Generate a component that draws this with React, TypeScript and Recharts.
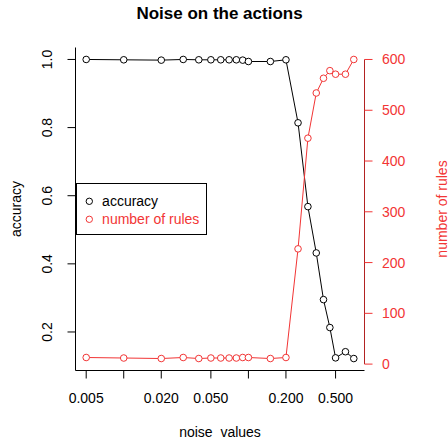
import React from "react";
import { ComposedChart, Line, XAxis, YAxis, Legend, ReferenceArea, ReferenceLine } from "recharts";

const noise = [0.005, 0.01, 0.02, 0.03, 0.04, 0.05, 0.06, 0.07, 0.08, 0.09, 0.1, 0.15, 0.2, 0.25, 0.3, 0.35, 0.4, 0.45, 0.5, 0.6, 0.7];
const accuracy = [1.0, 0.999, 0.998, 1.0, 0.999, 0.999, 0.999, 0.999, 0.999, 0.998, 0.994, 0.994, 0.999, 0.814, 0.568, 0.432, 0.295, 0.213, 0.124, 0.142, 0.122];
const rules = [13, 12, 11, 13, 11, 12, 12, 12, 12, 13, 13, 11, 13, 227, 445, 534, 563, 578, 571, 571, 600];

const xTicks = [0.005, 0.01, 0.02, 0.05, 0.1, 0.2, 0.5];
const xTickLabels = ["0.005", "", "0.020", "0.050", "", "0.200", "0.500"];
const accTicks = [0.2, 0.4, 0.6, 0.8, 1.0];
const ruleTicks = [0, 100, 200, 300, 400, 500, 600];

const data = noise.map((n, i) => ({ noise: n, accuracy: accuracy[i], rules: rules[i] }));

const FONT = "'Liberation Sans', Arial, Helvetica, sans-serif";
const RED = "#f23535";

const LeftTick = (p: any) => {
  const x = p.x - 13;
  return (
    <text x={x} y={p.y} transform={`rotate(-90, ${x}, ${p.y})`} textAnchor="middle" fontSize={14} fontFamily={FONT} fill="#000">
      {Number(p.payload.value).toFixed(1)}
    </text>
  );
};

const BottomTick = (p: any) => {
  const i = xTicks.indexOf(p.payload.value);
  return (
    <text x={p.x} y={p.y + 22.5} textAnchor="middle" fontSize={14} fontFamily={FONT} fill="#000">
      {i >= 0 ? xTickLabels[i] : ""}
    </text>
  );
};

const RightTick = (p: any) => (
  <text x={p.x + 7.5} y={p.y + 5} textAnchor="start" fontSize={14} fontFamily={FONT} fill={RED}>
    {p.payload.value}
  </text>
);

const LegendBox = (props: any) => {
  const items = props.payload || [];
  return (
    <div
      style={{
        boxSizing: "border-box",
        width: 131,
        height: 52,
        border: "1px solid #000",
        background: "#fff",
        paddingTop: 8,
        fontFamily: FONT,
        fontSize: 14,
      }}
    >
      {items.map((it: any) => (
        <div key={it.value} style={{ height: 18.3, lineHeight: "18.3px", display: "flex", alignItems: "center", paddingLeft: 8, whiteSpace: "nowrap" }}>
          <svg width={8.6} height={8.6} style={{ flex: "none" }}>
            <circle cx={4.3} cy={4.3} r={3.2} stroke={it.color} strokeWidth={1} fill="none" />
          </svg>
          <span style={{ marginLeft: 9, color: it.color }}>{it.value}</span>
        </div>
      ))}
    </div>
  );
};

export default function App() {
  return (
    <div style={{ position: "absolute", left: 0, top: 0, width: 448, height: 440, background: "#fff" }}>
      <div
        style={{
          position: "absolute",
          left: 0,
          top: 4.6,
          width: 439,
          textAlign: "center",
          fontFamily: FONT,
          fontWeight: "bold",
          fontSize: 17,
          lineHeight: "17px",
          zIndex: 2,
        }}
      >
        Noise on the actions
      </div>
      <ComposedChart width={448} height={440} data={data} margin={{ top: 47.5, right: 0, bottom: 0, left: 0.5 }}>
        <XAxis
          dataKey="noise"
          type="number"
          scale="log"
          domain={[0.004104, 0.8531]}
          allowDataOverflow
          ticks={xTicks}
          interval={0}
          height={69.5}
          tickSize={8}
          tick={BottomTick}
          stroke="#000"
          label={{
            content: (lp: any) => {
              const vb = lp.viewBox || { x: 75.5, y: 370.5, width: 289, height: 69.5 };
              return (
                <text x={vb.x + vb.width / 2} y={vb.y + 66.5} textAnchor="middle" fontSize={14} fontFamily={FONT} fill="#000" style={{ whiteSpace: "pre" }}>
                  {"noise  values"}
                </text>
              );
            },
          }}
        />
        <YAxis
          yAxisId="left"
          dataKey="accuracy"
          domain={[0.0869, 1.0351]}
          allowDataOverflow
          ticks={accTicks}
          interval={0}
          width={75}
          tickSize={8}
          tick={LeftTick}
          stroke="#000"
          label={{
            content: (lp: any) => {
              const vb = lp.viewBox || { x: 0.5, y: 47.5, width: 75, height: 323 };
              const x = vb.x + 20.5;
              const y = vb.y + vb.height / 2;
              return (
                <text x={x} y={y} transform={`rotate(-90, ${x}, ${y})`} textAnchor="middle" fontSize={14} fontFamily={FONT} fill="#000">
                  accuracy
                </text>
              );
            },
          }}
        />
        <YAxis
          yAxisId="right"
          orientation="right"
          dataKey="rules"
          domain={[-12.6, 623.6]}
          allowDataOverflow
          ticks={ruleTicks}
          interval={0}
          width={83.5}
          tickSize={8}
          tick={RightTick}
          axisLine={false}
          tickLine={{ stroke: RED }}
          label={{
            content: (lp: any) => {
              const vb = lp.viewBox || { x: 364.5, y: 47.5, width: 83.5, height: 323 };
              const x = vb.x + vb.width - 1.5;
              const y = vb.y + vb.height / 2;
              return (
                <text x={x} y={y} transform={`rotate(-90, ${x}, ${y})`} textAnchor="middle" fontSize={14} fontFamily={FONT} fill={RED}>
                  number of rules
                </text>
              );
            },
          }}
        />
        <ReferenceArea yAxisId="left" fill="none" stroke="#000" strokeWidth={1} ifOverflow="visible" />
        <ReferenceLine
          yAxisId="right"
          segment={[{ x: 0.8531, y: 0 }, { x: 0.8531, y: 600 }]}
          stroke="#b22222"
          strokeWidth={1}
          ifOverflow="visible"
        />
        <Line
          yAxisId="left"
          dataKey="accuracy"
          name="accuracy"
          stroke="#000"
          strokeWidth={1}
          dot={{ r: 3.3, stroke: "#000", strokeWidth: 1, fill: "#fff" }}
          activeDot={false}
          isAnimationActive={false}
        />
        <Line
          yAxisId="right"
          dataKey="rules"
          name="number of rules"
          stroke={RED}
          strokeWidth={1}
          dot={{ r: 3.3, stroke: RED, strokeWidth: 1, fill: "#fff" }}
          activeDot={false}
          isAnimationActive={false}
        />
        <Legend
          layout="vertical"
          align="center"
          verticalAlign="middle"
          content={LegendBox}
          wrapperStyle={{ left: 75.5, top: 183, width: 131 }}
        />
      </ComposedChart>
    </div>
  );
}
